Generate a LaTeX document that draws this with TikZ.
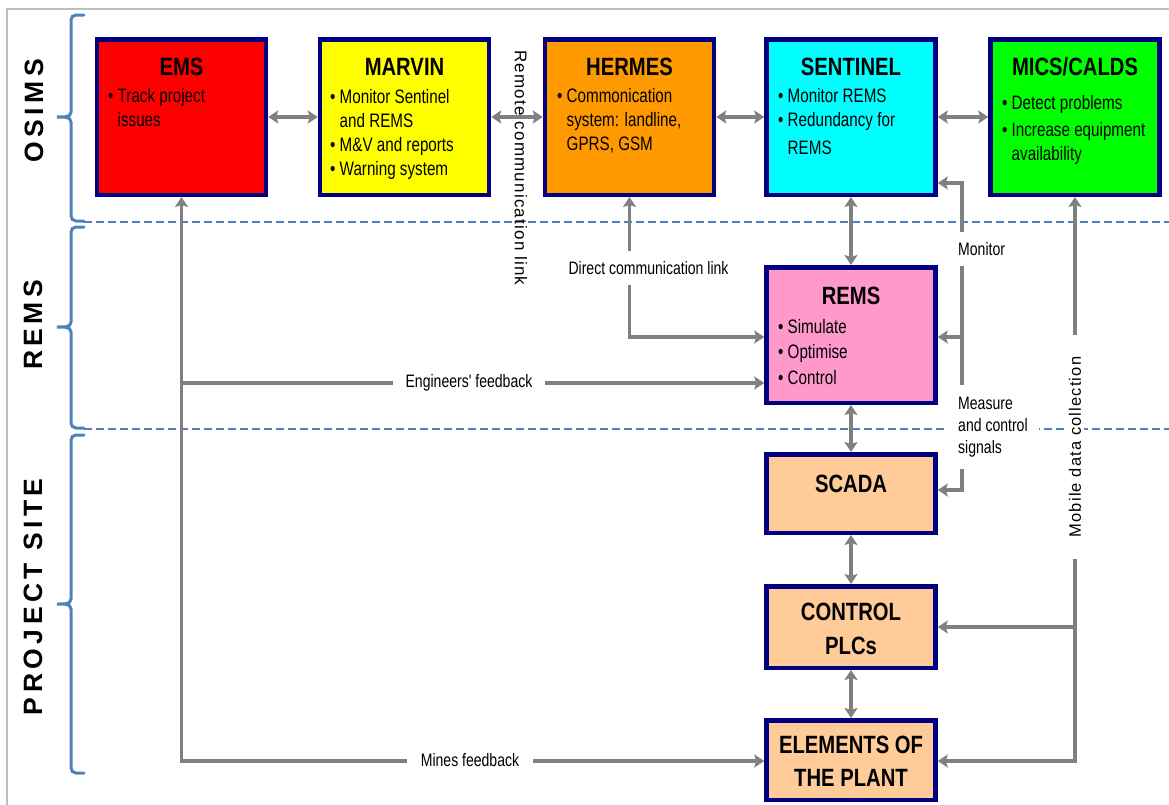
\documentclass[tikz,border=0pt]{standalone}
\usepackage{fontspec}
\setmainfont{Liberation Sans}
\newfontfamily\narrowfont{Liberation Sans}[FakeStretch=0.78]
\newfontfamily\headfont{Liberation Sans}[FakeStretch=0.81]
\newfontfamily\trackfont{Liberation Sans}[LetterSpace=7]
\newfontfamily\widefont{Liberation Sans}[LetterSpace=17]
\usetikzlibrary{arrows.meta}

\definecolor{boxborder}{RGB}{0,0,128}
\definecolor{linkgray}{RGB}{128,128,128}
\definecolor{bandblue}{RGB}{79,129,189}
\definecolor{framegray}{RGB}{191,191,191}
\definecolor{emsred}{RGB}{255,0,0}
\definecolor{marvinyellow}{RGB}{255,255,0}
\definecolor{hermesorange}{RGB}{255,153,0}
\definecolor{sentinelcyan}{RGB}{0,255,255}
\definecolor{micsgreen}{RGB}{0,255,0}
\definecolor{remspink}{RGB}{255,153,204}
\definecolor{sitepeach}{RGB}{255,204,153}

\newcommand\bul{\makebox[9.5pt][l]{•}}
\newcommand\cnt{\hspace*{9.5pt}}

% curly bracket on the left: top end, tip, bottom end
\newcommand\sidebrace[3]{%
  \draw[bracepen] (84,#1) -- (76,#1) to[out=180,in=90] (71,#1+5)
    -- (71,#2-5) to[out=270,in=0] (57,#2) to[out=0,in=90] (71,#2+5)
    -- (71,#3-5) to[out=270,in=180] (76,#3) -- (84,#3);}

\tikzset{
  unitbox/.style={draw=boxborder, line width=4.5pt, minimum width=169pt, inner sep=0pt},
  titletext/.style={font=\headfont\bfseries\fontsize{25}{34}\selectfont, align=center, inner sep=0pt},
  bodytext/.style={font=\narrowfont\fontsize{19.5}{24}\selectfont, align=left, anchor=north west, inner sep=0pt},
  tagtext/.style={font=\narrowfont\fontsize{18}{22}\selectfont, fill=white, inner xsep=13pt, inner ysep=3pt},
  conn/.style={draw=linkgray, line width=3.5pt, -{Stealth[length=10pt,width=13pt,inset=2pt]}},
  dconn/.style={draw=linkgray, line width=3.5pt, {Stealth[length=10pt,width=13pt,inset=2pt]}-{Stealth[length=10pt,width=13pt,inset=2pt]}},
  bandline/.style={draw=bandblue, line width=2.5pt, dash pattern=on 8pt off 4pt},
  bracepen/.style={draw=bandblue, line width=3pt, line cap=round},
  sidelabel/.style={font=\widefont\bfseries\fontsize{26.5}{30}\selectfont, rotate=90, inner sep=0pt},
}

\begin{document}
\begin{tikzpicture}[x=1pt,y=-1pt]
\useasboundingbox (0,0) rectangle (1169,804);

% outer frame
\draw[framegray, line width=1.5pt] (7,810) -- (7,9) -- (1175,9);

% layer separators
\draw[bandline] (84,222) -- (1169,222);
\draw[bandline] (84,429) -- (1169,429);

% layer brackets and names
\sidebrace{15}{117}{221}
\sidebrace{227}{327}{428}
\sidebrace{435}{604}{773}
\node[sidelabel] (osims-l) at (34,110.75) {OSIMS};
\node[sidelabel] (rems-l) at (33,324.75) {REMS};
\node[sidelabel] (site-l) at (33,596.75) {PROJECT SITE};

% system boxes
\node[unitbox, fill=emsred, minimum height=155.5pt] (ems) at (181.5,117) {};
\node[unitbox, fill=marvinyellow, minimum height=155.5pt] (marvin) at (404.5,117) {};
\node[unitbox, fill=hermesorange, minimum height=155.5pt] (hermes) at (629.5,117) {};
\node[unitbox, fill=sentinelcyan, minimum height=155.5pt] (sentinel) at (851,117) {};
\node[unitbox, fill=micsgreen, minimum height=155.5pt] (mics) at (1075,117) {};
\node[unitbox, fill=remspink, minimum height=135.5pt] (rems) at (851,335) {};
\node[unitbox, fill=sitepeach, minimum height=78.5pt] (scada) at (851,493.5) {};
\node[unitbox, fill=sitepeach, minimum height=81.5pt] (plc) at (851,627) {};
\node[unitbox, fill=sitepeach, minimum height=79.5pt] (elements) at (851,760) {};

% titles
\node[titletext, anchor=base] (ems-t) at (181.5,75) {EMS};
\node[titletext, anchor=base] (marvin-t) at (404.5,75) {MARVIN};
\node[titletext, anchor=base] (hermes-t) at (629.5,75) {HERMES};
\node[titletext, anchor=base] (sentinel-t) at (851,75) {SENTINEL};
\node[titletext, anchor=base] (mics-t) at (1075,75) {MICS/CALDS};
\node[titletext, anchor=base] (rems-t) at (851,304) {REMS};
\node[titletext, anchor=base] (scada-t) at (851,492) {SCADA};
\node[titletext] (plc-t) at (851,629) {CONTROL\\PLCs};
\node[titletext, font=\headfont\bfseries\fontsize{25}{33}\selectfont] (elements-t) at (851,761.5) {ELEMENTS OF\\THE PLANT};

% bullet lists
\node[bodytext] (ems-b) at (108,88) {\bul Track project\\\cnt issues};
\node[bodytext] (marvin-b) at (330,89) {\bul Monitor Sentinel\\\cnt and REMS\\\bul M\&V and reports\\\bul Warning system};
\node[bodytext] (hermes-b) at (557,88) {\bul Commonication\\\cnt system: landline,\\\cnt GPRS, GSM};
\node[bodytext] (sentinel-b) at (778,88) {\bul Monitor REMS\\\bul Redundancy for\\[4pt]\cnt REMS};
\node[bodytext] (mics-b) at (1002,95) {\bul Detect problems\\[3pt]\bul Increase equipment\\\cnt availability};
\node[bodytext] (rems-b) at (778,319) {\bul Simulate\\[1.5pt]\bul Optimise\\[1.5pt]\bul Control};

% links between the OSIMS systems
\draw[dconn] (ems) -- (marvin);
\draw[dconn] (marvin) -- (hermes);
\draw[dconn] (hermes) -- (sentinel);
\draw[dconn] (sentinel) -- (mics);

% vertical chain
\draw[dconn] (sentinel) -- (rems);
\draw[dconn] (rems) -- (scada);
\draw[dconn] (scada) -- (plc);
\draw[dconn] (plc) -- (elements);

% direct communication link
\coordinate (dbend) at (629.5,337);
\draw[dconn] (hermes.south) -- (dbend) -- (dbend -| rems.west);

% feedback to EMS
\coordinate (ebend) at (181.5,383);
\coordinate (fbend) at (181.5,761);
\draw[dconn] (ems.south) -- (fbend) -- (fbend -| elements.west);
\draw[conn] (ebend) -- (ebend -| rems.west);

% monitoring bus
\coordinate (mon1) at (962,183);
\coordinate (mon2) at (962,337);
\coordinate (mon3) at (962,490);
\draw[dconn] (mon1 -| sentinel.east) -- (mon1) -- (mon3) -- (mon3 -| scada.east);
\draw[conn] (mon2) -- (mon2 -| rems.east);

% mobile data collection
\coordinate (mob1) at (1075,627);
\coordinate (mob2) at (1075,761);
\draw[dconn] (mics.south) -- (mob2) -- (mob2 -| elements.east);
\draw[conn] (mob1) -- (mob1 -| plc.east);

% connector labels
\node[font=\trackfont\fontsize{17}{20}\selectfont, rotate=-90, inner sep=0pt] (remote-l) at (521,168) {Remote communication link};
\node[tagtext, inner xsep=4pt, inner ysep=10pt] (direct-l) at (648.5,268) {Direct communication link};
\node[tagtext] (eng-l) at (469,383) {Engineers' feedback};
\node[tagtext, inner xsep=14pt] (mines-l) at (470,760) {Mines feedback};
\node[tagtext, anchor=west, inner xsep=3pt, inner ysep=10pt] (monitor-l) at (955,249) {Monitor};
\node[tagtext, anchor=west, align=left, inner xsep=11pt, inner ysep=12pt] (measure-l) at (947,427) {Measure\\and control\\signals};
\node[font=\trackfont\fontsize{16.5}{20}\selectfont, rotate=90, fill=white, inner xsep=22pt, inner ysep=3pt] (mobile-l) at (1075,447) {Mobile data collection};
\end{tikzpicture}
\end{document}
